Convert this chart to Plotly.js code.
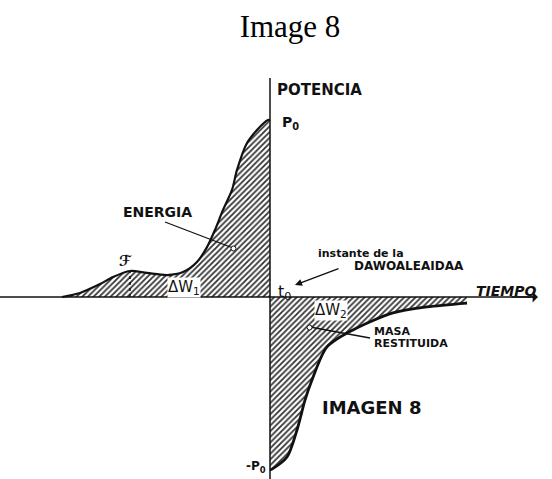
<!DOCTYPE html>
<html>
<head>
<meta charset="utf-8">
<script src="https://cdn.plot.ly/plotly-3.0.1.min.js"></script>
<style>
  html, body { margin: 0; padding: 0; background: #fff; }
  #chart { width: 552px; height: 479px; }
</style>
</head>
<body>
<div id="chart"></div>
<script>
(function () {
  'use strict';

  // ─── Data (time in arbitrary units, power in units of P0) ───────────────────
  var tBefore = [-2.08, -1.90, -1.70, -1.57, -1.40, -1.23, -1.03, -0.87, -0.73, -0.63,
                 -0.55, -0.47, -0.38, -0.33, -0.23, -0.13, -0.02, 0];
  var pBefore = [0, 0.023, 0.073, 0.113, 0.147, 0.136, 0.124, 0.141, 0.198, 0.282,
                 0.379, 0.492, 0.605, 0.718, 0.870, 0.944, 1.0, 1.0];

  var tAfter = [0, 0.02, 0.17, 0.27, 0.35, 0.42, 0.57, 0.83, 1.23, 1.57, 1.97];
  var pAfter = [-0.977, -0.972, -0.904, -0.751, -0.582, -0.469, -0.282, -0.186,
                -0.090, -0.056, -0.034];

  var humpT = [-1.40, -1.40];
  var humpP = [0, 0.147];

  // ─── Helpers ────────────────────────────────────────────────────────────────
  var W = 552, H = 479;
  function px(x) { return x / W; }
  function py(y) { return 1 - y / H; }

  var HAND = 'DejaVu Sans, sans-serif';

  function label(text, x, y, size, extra) {
    var a = {
      text: text, xref: 'paper', yref: 'paper',
      x: px(x), y: py(y), xanchor: 'left', yanchor: 'middle',
      showarrow: false,
      font: { family: HAND, size: size || 11, color: '#111' }
    };
    if (extra) Object.keys(extra).forEach(function (k) { a[k] = extra[k]; });
    return a;
  }

  function leader(x0, y0, x1, y1) {
    return {
      type: 'line', xref: 'paper', yref: 'paper',
      x0: px(x0), y0: py(y0), x1: px(x1), y1: py(y1),
      line: { color: '#111', width: 1.3 }
    };
  }

  var hatch = { shape: '/', size: 4, solidity: 0.45, fgcolor: '#333', bgcolor: '#fff' };

  var traces = [
    {
      x: tBefore, y: pBefore, mode: 'lines', fill: 'tozeroy',
      line: { color: '#111', width: 2.2, shape: 'spline', smoothing: 0.8 },
      fillcolor: '#fff', fillpattern: hatch, hoverinfo: 'skip'
    },
    {
      x: tAfter, y: pAfter, mode: 'lines', fill: 'tozeroy',
      line: { color: '#111', width: 2.8, shape: 'spline', smoothing: 0.8 },
      fillcolor: '#fff', fillpattern: hatch, hoverinfo: 'skip'
    },
    {
      x: humpT, y: humpP, mode: 'lines',
      line: { color: '#111', width: 1.5, dash: 'dot' }, hoverinfo: 'skip'
    }
  ];

  var shapes = [
    // vertical axis (power)
    { type: 'line', xref: 'x', yref: 'y', x0: 0, x1: 0, y0: -1.03, y1: 1.237,
      line: { color: '#111', width: 1.5 } },
    // horizontal axis (time)
    { type: 'line', xref: 'x', yref: 'y', x0: -2.70, x1: 2.66, y0: 0, y1: 0,
      line: { color: '#111', width: 1.5 } },
    leader(165, 222, 233, 248),
    leader(310, 327, 370, 338),
    { type: 'circle', xref: 'paper', yref: 'paper',
      x0: px(231), x1: px(236), y0: py(246), y1: py(251),
      line: { color: '#111', width: 1 }, fillcolor: '#fff' },
    { type: 'circle', xref: 'paper', yref: 'paper',
      x0: px(307), x1: px(312), y0: py(325), y1: py(330),
      line: { color: '#111', width: 1 }, fillcolor: '#fff' }
  ];

  var clear = { bgcolor: '#fff', borderpad: 0 };

  var annotations = [
    label('<b>POTENCIA</b>', 275, 90, 15),
    label('<b>P<sub>0</sub></b>', 280, 123, 14),
    label('<b>ENERGIA</b>', 121, 212, 14),
    label('<b>ℱ</b>', 117, 261, 15),
    label('ΔW<sub>1</sub>', 167, 287, 15, clear),
    label('t<sub>0</sub>', 276, 292, 16),
    label('<b>instante de la</b>', 316, 253, 11),
    label('<b>DAWOALEAIDAA</b>', 352, 266, 12),
    label('<b><i>TIEMPO</i></b>', 474, 291, 14),
    label('ΔW<sub>2</sub>', 314, 310, 15, clear),
    label('<b>MASA</b>', 372, 331, 11),
    label('<b>RESTITUIDA</b>', 372, 343, 11),
    label('<b>IMAGEN 8</b>', 320, 407, 18),
    label('<b>-P<sub>0</sub></b>', 244, 467, 12),
    // arrow pointing to t0
    { xref: 'paper', yref: 'paper', x: px(295), y: py(285), text: '',
      showarrow: true, arrowhead: 2, arrowsize: 1, arrowwidth: 1.4, arrowcolor: '#111',
      ax: 45, ay: -17 },
    // arrow at the end of the time axis
    { xref: 'x', yref: 'y', x: 2.68, y: 0, text: '',
      showarrow: true, arrowhead: 1, arrowsize: 1.2, arrowwidth: 1.5, arrowcolor: '#111',
      axref: 'x', ayref: 'y', ax: 2.40, ay: 0 }
  ];

  var layout = {
    width: W, height: H,
    margin: { l: 0, r: 0, t: 0, b: 0 },
    paper_bgcolor: '#fff', plot_bgcolor: '#fff',
    showlegend: false,
    title: {
      text: 'Image 8', xref: 'container', yref: 'container',
      x: 290 / W, xanchor: 'center', y: 1 - 26 / H, yanchor: 'middle',
      font: { family: 'Liberation Serif, Times New Roman, serif', size: 31, color: '#000' }
    },
    xaxis: { range: [-2.70, 2.82], visible: false, fixedrange: true },
    yaxis: { range: [-1.028, 1.678], visible: false, fixedrange: true },
    shapes: shapes,
    annotations: annotations
  };

  Plotly.newPlot('chart', traces, layout, { staticPlot: true, displayModeBar: false });
})();
</script>
</body>
</html>
